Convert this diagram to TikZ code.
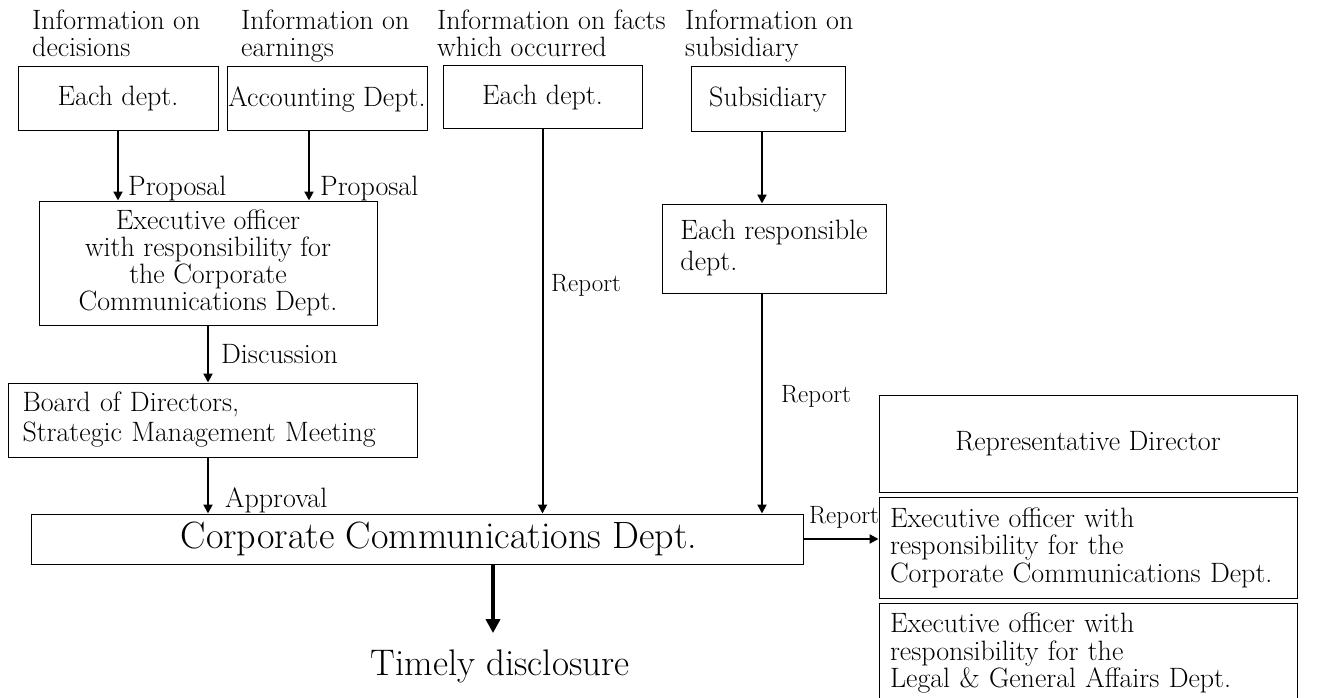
\documentclass[tikz,border=0pt]{standalone}
\usetikzlibrary{arrows.meta}
\begin{document}
\begin{tikzpicture}[x=1pt,y=-1pt,
  box/.style={draw,line width=1pt,inner sep=0pt,font=\fontsize{28}{27}\selectfont},
  hd/.style={anchor=north west,inner sep=0pt,align=left,font=\fontsize{28}{27}\selectfont},
  lbl/.style={anchor=base west,inner sep=0pt,font=\fontsize{28}{27}\selectfont},
  rpt/.style={anchor=base west,inner sep=0pt,font=\fontsize{25}{25}\selectfont},
  arr/.style={line width=2pt,-{Triangle[length=9pt,width=9pt]}}]
\useasboundingbox (0,0) rectangle (1333,698);

% kinds of information
\node[hd] (h1) at (32,10) {Information on\\decisions};
\node[hd] (h2) at (241,10) {Information on\\earnings};
\node[hd] (h3) at (437,10) {Information on facts\\which occurred};
\node[hd] (h4) at (685,10) {Information on\\subsidiary};

\node[box,minimum width=200pt,minimum height=64pt] (each1) at (118,99) {Each dept.};
\node[box,minimum width=200pt,minimum height=64pt] (acct) at (327,99) {Accounting Dept.};
\node[box,minimum width=199pt,minimum height=63pt] (each2) at (542.5,97.5) {Each dept.};
\node[box,minimum width=154pt,minimum height=65pt] (subs) at (768,99.5) {Subsidiary};

\node[box,align=center,minimum width=338pt,minimum height=124pt] (exec) at (208,263)
  {Executive officer\\with responsibility for\\the Corporate\\Communications Dept.};
\node[box,align=left,minimum width=224pt,minimum height=89pt,font=\fontsize{28}{31}\selectfont] (resp) at (774,248.5)
  {Each responsible\\dept.};
\node[box,align=left,text width=380pt,minimum width=409pt,minimum height=74pt,font=\fontsize{28}{30}\selectfont] (board) at (212.5,420)
  {Board of Directors,\\Strategic Management Meeting};
\node[box,minimum width=772pt,minimum height=50pt,font=\fontsize{38}{40}\selectfont] (corp) at (417,539)
  {\hspace{44pt}Corporate Communications Dept.};
\node[inner sep=0pt,anchor=base,font=\fontsize{37}{40}\selectfont] (timely) at (500,675) {Timely disclosure};

% reported to
\node[box,minimum width=418pt,minimum height=97pt] (repdir) at (1088,443.5) {Representative Director};
\node[box,align=left,text width=396pt,minimum width=418pt,minimum height=101pt,font=\fontsize{28}{27.5}\selectfont] (excc) at (1088,547.5)
  {Executive officer with\\responsibility for the\\Corporate Communications Dept.};
\node[box,align=left,text width=396pt,minimum width=418pt,minimum height=101pt,font=\fontsize{28}{27.5}\selectfont] (exlg) at (1088,653.5)
  {Executive officer with\\responsibility for the\\Legal \& General Affairs Dept.};

\coordinate (p2) at ([xshift=-18pt]acct.south);
\coordinate (p4) at ([xshift=-6pt]subs.south);
\coordinate (p5) at ([xshift=-12pt]resp.south);
\coordinate (p6) at ([xshift=76pt]corp.south);

\draw[arr] (each1) -- (each1 |- exec.north);
\draw[arr] (p2) -- (p2 |- exec.north);
\draw[arr] (each2) -- (each2 |- corp.north);
\draw[arr] (p4) -- (p4 |- resp.north);
\draw[arr] (p5) -- (p5 |- corp.north);
\draw[arr] (exec) -- (exec |- board.north);
\draw[arr] (exec |- board.south) -- (exec |- corp.north);
\draw[arr,line width=2.5pt] (corp) -- (corp -| excc.west);
\draw[line width=4.5pt,-{Triangle[length=14pt,width=14pt]},shorten >=16pt] (p6) -- (p6 |- timely.north);

\node[lbl] (prop1) at (128,195) {Proposal};
\node[lbl] (prop2) at (320,195) {Proposal};
\node[lbl] (disc) at (221,363) {Discussion};
\node[lbl] (appr) at (225,507) {Approval};
\node[rpt] (rep1) at (551,291) {Report};
\node[rpt] (rep2) at (781,402) {Report};
\node[rpt] (rep3) at (809,523) {Report};
\end{tikzpicture}
\end{document}
